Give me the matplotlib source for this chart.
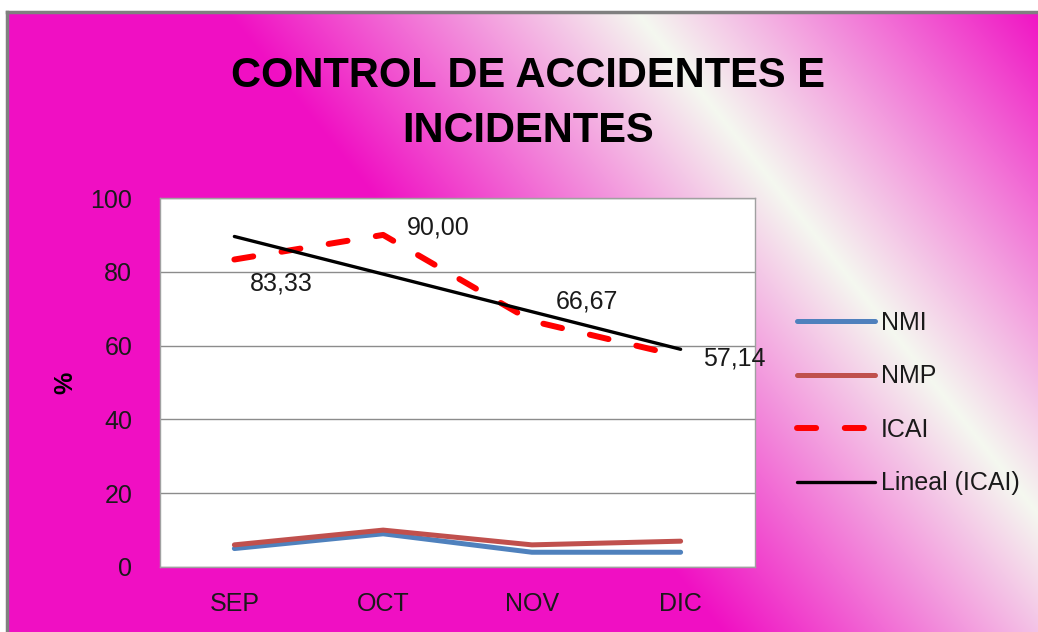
import numpy as np
import matplotlib
matplotlib.use("Agg")
import matplotlib.pyplot as plt
from matplotlib.lines import Line2D

plt.rcParams['font.family'] = ['Liberation Sans', 'DejaVu Sans']

# datos
meses = ["SEP", "OCT", "NOV", "DIC"]
nmi = [5, 9, 4, 4]
nmp = [6, 10, 6, 7]
icai = [83.33, 90.00, 66.67, 57.14]
etiquetas_icai = ["83,33", "90,00", "66,67", "57,14"]
yticks = [0, 20, 40, 60, 80, 100]

W, H = 1038, 632
fig = plt.figure(figsize=(W / 100, H / 100), dpi=100)
fig.patch.set_facecolor("white")

# fondo degradado magenta / blanco en diagonal
bg = fig.add_axes([7 / W, 0, 1 - 7 / W, 1 - 12 / H])
bg.set_axis_off()
xx, yy = np.meshgrid(np.arange(7, W), np.arange(12, H))
bx = 627 + 0.8 * yy          # centro de la banda blanca
d = np.abs((xx - bx) * 0.781)
s = np.clip(d / 320.0, 0, 1)[..., None]
blanco = np.array([245, 248, 240]) / 255
magenta = np.array([240, 15, 195]) / 255
img = blanco + (magenta - blanco) * s
bg.imshow(img, aspect="auto", extent=(7, W, H, 12))
bg.set_xlim(7, W)
bg.set_ylim(H, 12)

# borde gris
fig.add_artist(Line2D([7 / W, 1], [1 - 12 / H, 1 - 12 / H], color="#808080", lw=2.5,
                      transform=fig.transFigure))
fig.add_artist(Line2D([7 / W, 7 / W], [0, 1 - 12 / H], color="#808080", lw=2.5,
                      transform=fig.transFigure))

ax = fig.add_axes([160 / W, 1 - 567 / H, (755 - 160) / W, (567 - 198) / H])
ax.set_facecolor("white")
x = np.arange(len(meses))

ax.plot(x, nmi, color="#4F81BD", lw=3.6, solid_capstyle="round", label="NMI", zorder=3)
ax.plot(x, nmp, color="#C0504D", lw=3.6, solid_capstyle="round", label="NMP", zorder=3)
ax.plot(x, icai, color="#FF0000", lw=4.3, dashes=(3.2, 4.8), dash_capstyle="round",
        label="ICAI", zorder=4)
coef = np.polyfit(x, icai, 1)
ax.plot(x, np.polyval(coef, x), color="black", lw=2.4, solid_capstyle="round",
        label="Lineal (ICAI)", zorder=5)

offs = [(11, -17), (17, 5), (17, 14), (16, -2)]
for xi, yi, t, o in zip(x, icai, etiquetas_icai, offs):
    ax.annotate(t, (xi, yi), xytext=o, textcoords="offset points", fontsize=18,
                color="#1a1a1a", ha="left", va="center", zorder=6, annotation_clip=False)

ax.set_xlim(-0.5, 3.5)
ax.set_ylim(0, 100)
ax.set_yticks(yticks)
ax.set_xticks(x)
ax.set_xticklabels(meses, fontsize=18)
ax.tick_params(axis="y", length=0, pad=20, labelsize=18, labelcolor="#1a1a1a")
ax.tick_params(axis="x", length=0, pad=18, labelcolor="#1a1a1a")
ax.grid(axis="y", color="#8c8c8c", lw=1)
ax.set_axisbelow(True)
for sp in ax.spines.values():
    sp.set_color("#a0a0a0")
    sp.set_linewidth(1)

fig.text(65 / W, 1 - 383 / H, "%", rotation=90, fontsize=18, fontweight="bold",
         ha="center", va="center")

fig.text(528 / W, 1 - 76 / H, "CONTROL DE ACCIDENTES E", fontsize=30, fontweight="bold",
         ha="center", va="center")
fig.text(528 / W, 1 - 131 / H, "INCIDENTES", fontsize=30, fontweight="bold",
         ha="center", va="center")

leg = fig.legend(loc="center left", bbox_to_anchor=(797 / W, 1 - 403 / H), frameon=False,
                 fontsize=18, handlelength=3.1, handletextpad=0.25, labelspacing=1.18,
                 borderpad=0, borderaxespad=0)
for t in leg.get_texts():
    t.set_color("#1a1a1a")

fig.savefig("out.png", dpi=100)
